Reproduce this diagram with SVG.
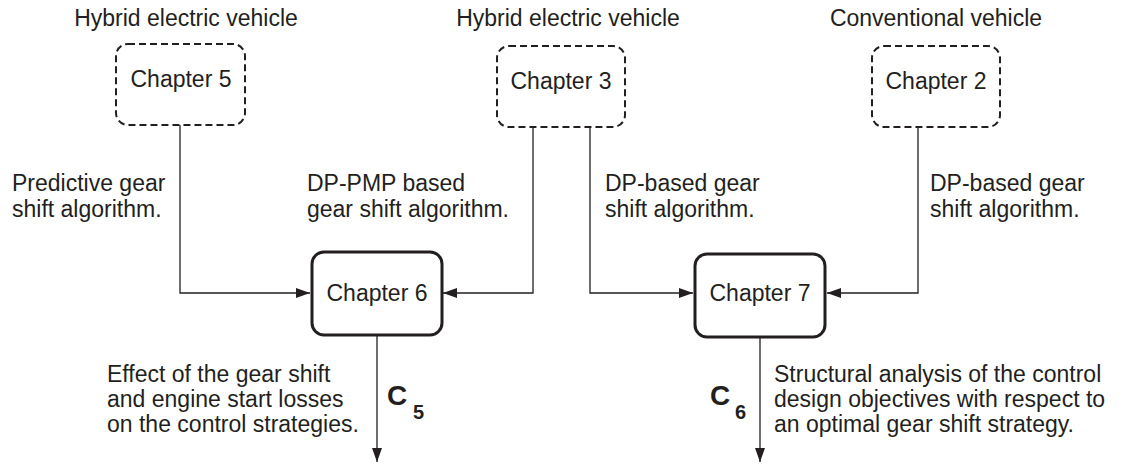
<svg xmlns="http://www.w3.org/2000/svg" width="1125" height="465" viewBox="0 0 1125 465">
<style>
text{font-family:"Liberation Sans",Arial,sans-serif;font-size:23px;fill:#231f20}
.c{text-anchor:middle}
.b{font-weight:bold}
.dash{fill:none;stroke:#231f20;stroke-width:2;stroke-dasharray:7 4}
.solid{fill:#fff;stroke:#231f20;stroke-width:3}
.ln{fill:none;stroke:#231f20;stroke-width:1.3}
</style>
<defs>
<marker id="ah" viewBox="0 0 14 10" refX="14" refY="5" markerWidth="14" markerHeight="10" markerUnits="userSpaceOnUse" orient="auto">
<path d="M0,0 L14,5 L0,10 Z" fill="#231f20"/>
</marker>
</defs>
<g id="connectors">
<path class="ln" d="M180,125 V293 H310" marker-end="url(#ah)"/>
<path class="ln" d="M533,127 V293 H443" marker-end="url(#ah)"/>
<path class="ln" d="M590,127 V293 H693" marker-end="url(#ah)"/>
<path class="ln" d="M918,127 V293 H827" marker-end="url(#ah)"/>
<path class="ln" d="M377,335 V462" marker-end="url(#ah)"/>
<path class="ln" d="M760,337 V462" marker-end="url(#ah)"/>
</g>
<g id="ch5">
<rect class="dash" x="116" y="44" width="129" height="81" rx="12"/>
<text class="c" x="181" y="87">Chapter 5</text>
</g>
<g id="ch3">
<rect class="dash" x="497" y="46" width="128" height="81" rx="12"/>
<text class="c" x="561" y="89">Chapter 3</text>
</g>
<g id="ch2">
<rect class="dash" x="872" y="46" width="128" height="81" rx="12"/>
<text class="c" x="936" y="89">Chapter 2</text>
</g>
<g id="ch6">
<rect class="solid" x="312" y="252" width="130" height="83" rx="12"/>
<text class="c" x="377" y="301">Chapter 6</text>
</g>
<g id="ch7">
<rect class="solid" x="695" y="254" width="130" height="83" rx="12"/>
<text class="c" x="760" y="301">Chapter 7</text>
</g>
<g id="labels">
<text class="c" x="186" y="26">Hybrid electric vehicle</text>
<text class="c" x="568" y="26">Hybrid electric vehicle</text>
<text class="c" x="936" y="26">Conventional vehicle</text>
<text x="12" y="191">Predictive gear</text>
<text x="12" y="217">shift algorithm.</text>
<text x="307" y="191">DP-PMP based</text>
<text x="307" y="217">gear shift algorithm.</text>
<text x="605" y="191">DP-based gear</text>
<text x="605" y="217">shift algorithm.</text>
<text x="930" y="191">DP-based gear</text>
<text x="930" y="217">shift algorithm.</text>
<text x="107" y="382">Effect of the gear shift</text>
<text x="107" y="407">and engine start losses</text>
<text x="107" y="432">on the control strategies.</text>
<text x="774" y="382">Structural analysis of the control</text>
<text x="774" y="407">design objectives with respect to</text>
<text x="774" y="432">an optimal gear shift strategy.</text>
<text class="b" x="387" y="405" style="font-size:28px">C</text>
<text class="b" x="413" y="419" style="font-size:20px">5</text>
<text class="b" x="710" y="405" style="font-size:28px">C</text>
<text class="b" x="735" y="419" style="font-size:20px">6</text>
</g>
</svg>
